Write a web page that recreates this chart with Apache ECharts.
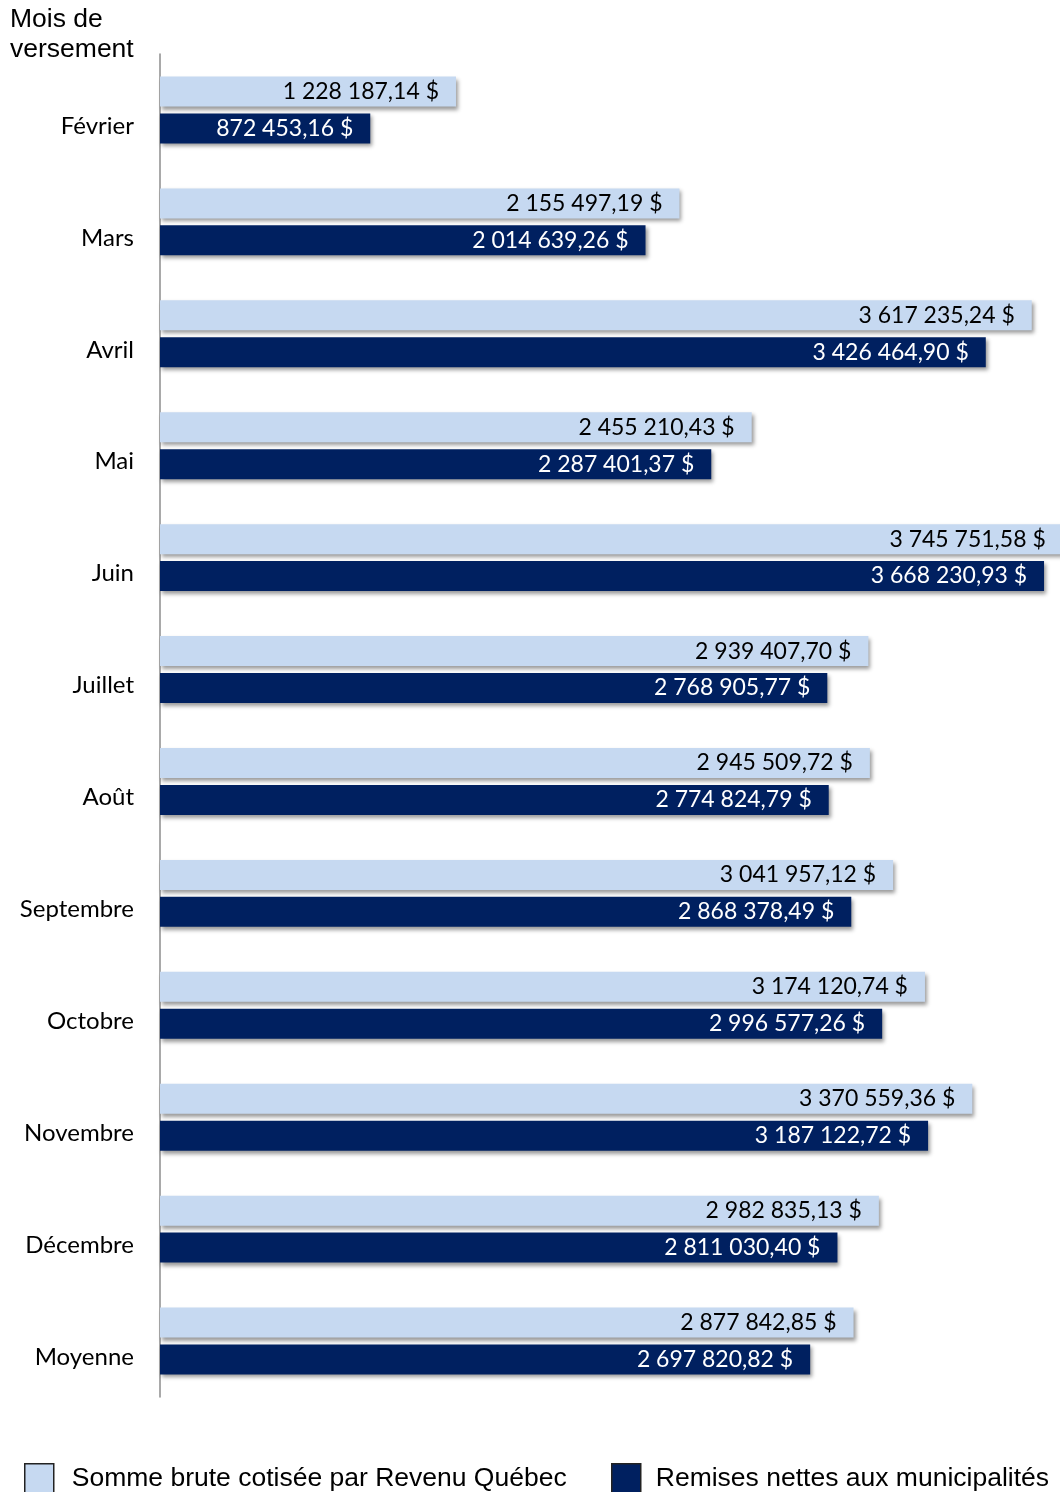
<!DOCTYPE html>
<html><head><meta charset="utf-8">
<script src="https://cdn.jsdelivr.net/npm/echarts@6/dist/echarts.min.js"></script>
<style>html,body{margin:0;padding:0;background:#fff}#c{width:1060px;height:1492px}</style>
</head><body><div id="c"></div>
<script>
const categories = ['Février','Mars','Avril','Mai','Juin','Juillet','Août','Septembre','Octobre','Novembre','Décembre','Moyenne'];
const brute = [1228187.14, 2155497.19, 3617235.24, 2455210.43, 3745751.58, 2939407.70, 2945509.72, 3041957.12, 3174120.74, 3370559.36, 2982835.13, 2877842.85];
const nettes = [872453.16, 2014639.26, 3426464.90, 2287401.37, 3668230.93, 2768905.77, 2774824.79, 2868378.49, 2996577.26, 3187122.72, 2811030.40, 2697820.82];
const seriesNames = ['Somme brute cotisée par Revenu Québec', 'Remises nettes aux municipalités'];

function fmt(v){
  const parts = v.toFixed(2).split('.');
  const int = parts[0].replace(/\B(?=(\d{3})+(?!\d))/g, ' ');
  return int + ',' + parts[1] + ' $';
}
const chart = echarts.init(document.getElementById('c'), null, {renderer:'canvas'});
const shadow = {shadowColor:'rgba(0,0,0,0.4)', shadowBlur:4, shadowOffsetX:2, shadowOffsetY:3};
const labelFont = 'Lato';
const legendItem = {borderColor:'#222', borderWidth:1.5, shadowBlur:0, shadowOffsetX:0, shadowOffsetY:0};
chart.setOption({
  animation:false,
  title:{text:'Mois de\nversement', left:10, top:5, padding:0, textStyle:{fontFamily:'Liberation Sans', fontWeight:'normal', fontSize:26.5, lineHeight:30, color:'#000'}},
  grid:{left:160, top:54, width:964, height:1343, outerBoundsMode:'none', containLabel:false},
  xAxis:{type:'value', min:0, max:4000000, show:false},
  yAxis:{type:'category', data:categories, inverse:true,
    axisLine:{show:true, lineStyle:{color:'#8c8c8c', width:1.5}},
    axisTick:{show:false},
    axisLabel:{margin:26, fontFamily:labelFont, fontSize:24, color:'#000', verticalAlign:'top', lineHeight:32}},
  legend:[
    {data:[seriesNames[0]], left:24, top:1463, padding:0, itemWidth:29, itemHeight:29, icon:'rect',
     textStyle:{fontFamily:'Liberation Sans', fontSize:26.5, color:'#000', padding:[0,0,0,13]}, itemStyle:legendItem},
    {data:[seriesNames[1]], left:611, top:1463, padding:0, itemWidth:29, itemHeight:29, icon:'rect',
     textStyle:{fontFamily:'Liberation Sans', fontSize:26.5, color:'#000', padding:[0,0,0,10]}, itemStyle:legendItem}
  ],
  series:[
    {name:seriesNames[0], type:'bar', data:brute, barWidth:30, barGap:'23%', clip:false,
     itemStyle:Object.assign({color:'#C6D9F1'}, shadow),
     label:{show:true, position:'insideRight', distance:17, color:'#000', fontFamily:labelFont, fontSize:23, formatter:p=>fmt(p.value)}},
    {name:seriesNames[1], type:'bar', data:nettes, barWidth:30, barGap:'23%', clip:false,
     itemStyle:Object.assign({color:'#002060'}, shadow),
     label:{show:true, position:'insideRight', distance:17, color:'#fff', fontFamily:labelFont, fontSize:23, formatter:p=>fmt(p.value)}}
  ]
});
</script></body></html>
